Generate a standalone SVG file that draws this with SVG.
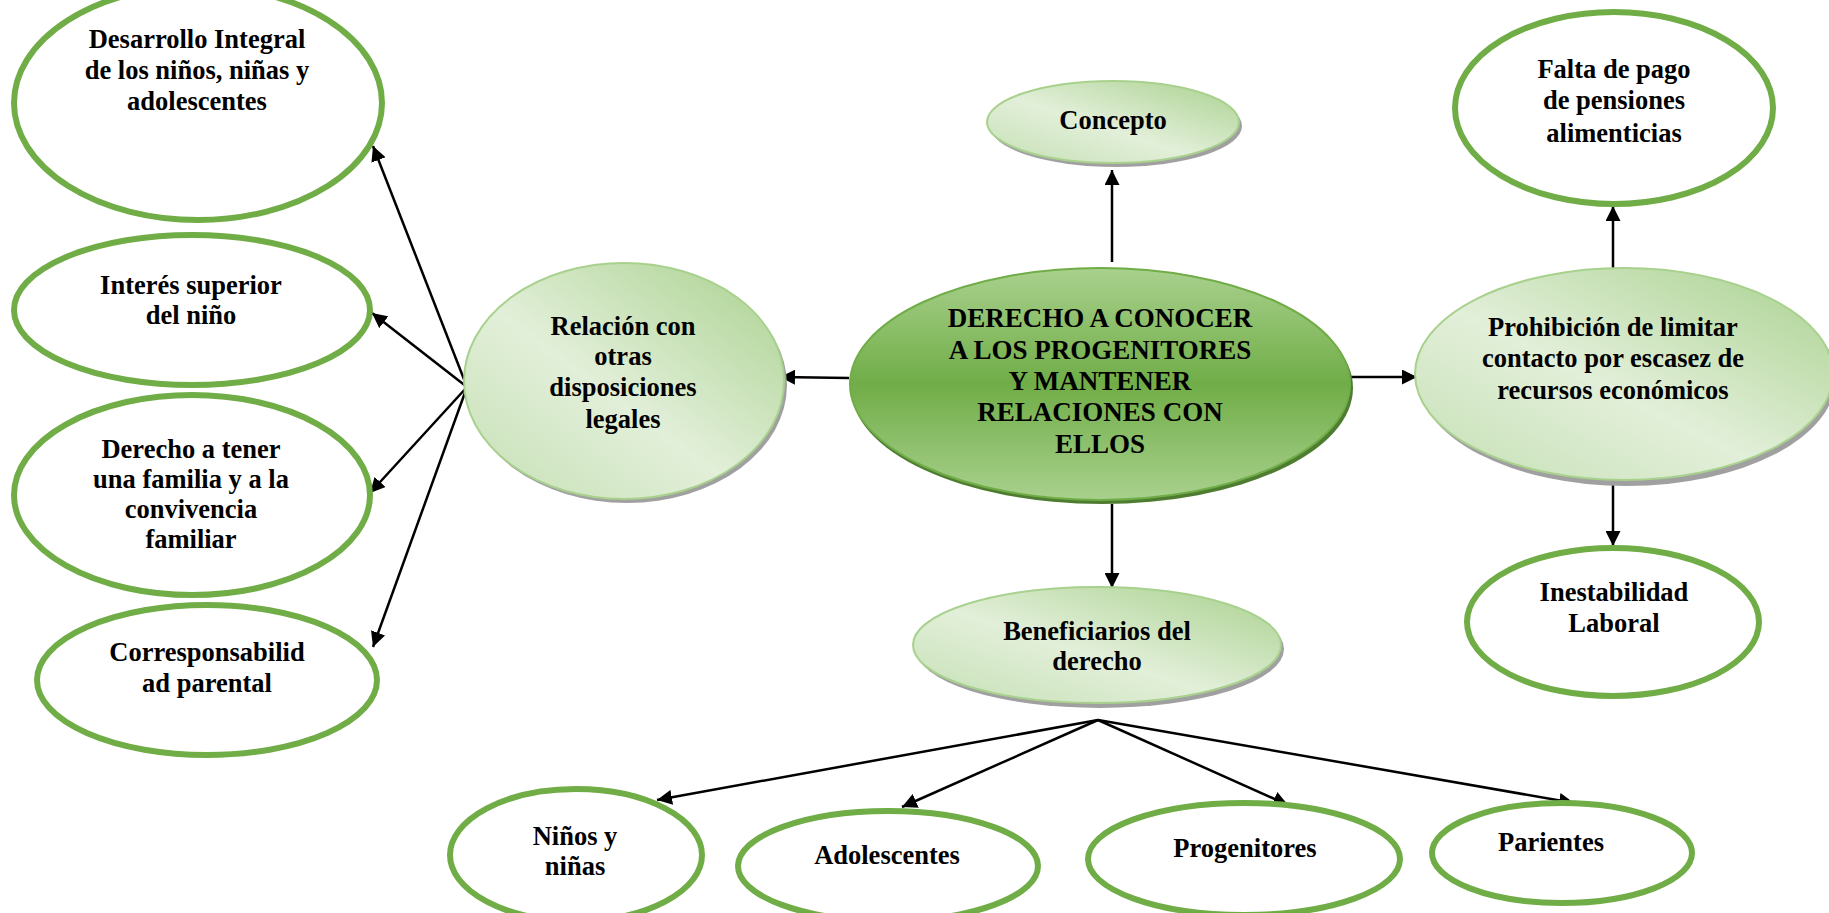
<svg xmlns="http://www.w3.org/2000/svg" width="1829" height="913" viewBox="0 0 1829 913">
<defs>
<linearGradient id="lg" x1="0" y1="1" x2="1" y2="0">
<stop offset="0" stop-color="#c5e0b4"/>
<stop offset="0.45" stop-color="#e2efd9"/>
<stop offset="1" stop-color="#a9d18e"/>
</linearGradient>
<linearGradient id="cg" x1="0" y1="0" x2="0" y2="1">
<stop offset="0" stop-color="#a9d18e"/>
<stop offset="0.5" stop-color="#70ad47"/>
<stop offset="1" stop-color="#a9d18e"/>
</linearGradient>
<marker id="ah" viewBox="0 0 10 10" refX="10" refY="5" markerWidth="15" markerHeight="15" markerUnits="userSpaceOnUse" orient="auto">
<path d="M0,0 L10,5 L0,10 z" fill="#000"/>
</marker>
</defs>
<style>
text{font-family:"Liberation Serif","Times New Roman",serif;font-weight:bold;font-size:26.5px;fill:#000;text-anchor:middle}
.big{font-size:27px}
.out{fill:#fff;stroke:#70ad47;stroke-width:6}
.lt{fill:url(#lg);stroke:#a9d18e;stroke-width:2}
.sh{fill:#a0a0a0}
.csh{fill:#4e7d32}
.ctr{fill:url(#cg);stroke:#70ad47;stroke-width:2}
.cn line{stroke:#000;stroke-width:2.5;marker-end:url(#ah)}
</style>
<rect width="1829" height="913" fill="#fff"/>

<g class="cn" id="connectors">
<line x1="1112" y1="262" x2="1112" y2="170"/>
<line x1="849" y1="378" x2="780" y2="377"/>
<line x1="1351" y1="377" x2="1417" y2="377"/>
<line x1="1112" y1="504" x2="1112" y2="588"/>
<line x1="1613" y1="268" x2="1613" y2="206"/>
<line x1="1613" y1="482" x2="1613" y2="546"/>
<line x1="467" y1="387" x2="373" y2="146"/>
<line x1="467" y1="387" x2="372" y2="313"/>
<line x1="467" y1="387" x2="370" y2="493"/>
<line x1="467" y1="387" x2="373" y2="647"/>
<line x1="1098" y1="720" x2="657" y2="800"/>
<line x1="1098" y1="720" x2="902" y2="807"/>
<line x1="1098" y1="720" x2="1288" y2="805"/>
<line x1="1098" y1="720" x2="1574" y2="803"/>
</g>

<g id="n-desarrollo">
<ellipse class="out" cx="198" cy="103" rx="184" ry="117"/>
<text x="197" y="48">Desarrollo Integral</text>
<text x="197" y="79">de los niños, niñas y</text>
<text x="197" y="110">adolescentes</text>
</g>
<g id="n-interes">
<ellipse class="out" cx="192" cy="310" rx="178" ry="75"/>
<text x="191" y="294">Interés superior</text>
<text x="191" y="324">del niño</text>
</g>
<g id="n-derecho">
<ellipse class="out" cx="192" cy="495" rx="178" ry="100"/>
<text x="191" y="458">Derecho a tener</text>
<text x="191" y="488">una familia y a la</text>
<text x="191" y="518">convivencia</text>
<text x="191" y="548">familiar</text>
</g>
<g id="n-corresp">
<ellipse class="out" cx="207" cy="680" rx="170" ry="75"/>
<text x="207" y="661">Corresponsabilid</text>
<text x="207" y="692">ad parental</text>
</g>

<g id="n-relacion">
<ellipse class="sh" cx="627" cy="385" rx="160" ry="118"/>
<ellipse class="lt" cx="624" cy="381" rx="160" ry="118"/>
<text x="623" y="335">Relación con</text>
<text x="623" y="365">otras</text>
<text x="623" y="396">disposiciones</text>
<text x="623" y="428">legales</text>
</g>

<g id="n-central">
<ellipse class="csh" cx="1102" cy="388" rx="251" ry="116"/>
<ellipse class="ctr" cx="1100" cy="384" rx="250" ry="116"/>
<text class="big" x="1100" y="327">DERECHO A CONOCER</text>
<text class="big" x="1100" y="359">A LOS PROGENITORES</text>
<text class="big" x="1100" y="390">Y MANTENER</text>
<text class="big" x="1100" y="421">RELACIONES CON</text>
<text class="big" x="1100" y="453">ELLOS</text>
</g>

<g id="n-concepto">
<ellipse class="sh" cx="1116" cy="126" rx="126" ry="41"/>
<ellipse class="lt" cx="1113" cy="122" rx="126" ry="41"/>
<text x="1113" y="129">Concepto</text>
</g>

<g id="n-prohibicion">
<ellipse class="sh" cx="1627" cy="378" rx="209" ry="108"/>
<ellipse class="lt" cx="1624" cy="374" rx="209" ry="106"/>
<text x="1613" y="336">Prohibición de limitar</text>
<text x="1613" y="367">contacto por escasez de</text>
<text x="1613" y="399">recursos económicos</text>
</g>

<g id="n-falta">
<ellipse class="out" cx="1614" cy="108" rx="159" ry="96"/>
<text x="1614" y="78">Falta de pago</text>
<text x="1614" y="109">de pensiones</text>
<text x="1614" y="142">alimenticias</text>
</g>

<g id="n-inestabilidad">
<ellipse class="out" cx="1613" cy="622" rx="146" ry="74"/>
<text x="1614" y="601">Inestabilidad</text>
<text x="1614" y="632">Laboral</text>
</g>

<g id="n-beneficiarios">
<ellipse class="sh" cx="1100" cy="649" rx="184" ry="59"/>
<ellipse class="lt" cx="1097" cy="645" rx="184" ry="58"/>
<text x="1097" y="640">Beneficiarios del</text>
<text x="1097" y="670">derecho</text>
</g>

<g id="n-ninos">
<ellipse class="out" cx="576" cy="855" rx="126" ry="66"/>
<text x="575" y="845">Niños y</text>
<text x="575" y="875">niñas</text>
</g>
<g id="n-adolescentes">
<ellipse class="out" cx="888" cy="866" rx="150" ry="55"/>
<text x="887" y="864">Adolescentes</text>
</g>
<g id="n-progenitores">
<ellipse class="out" cx="1244" cy="859" rx="156" ry="56"/>
<text x="1245" y="857">Progenitores</text>
</g>
<g id="n-parientes">
<ellipse class="out" cx="1562" cy="853" rx="130" ry="50"/>
<text x="1551" y="851">Parientes</text>
</g>
</svg>
